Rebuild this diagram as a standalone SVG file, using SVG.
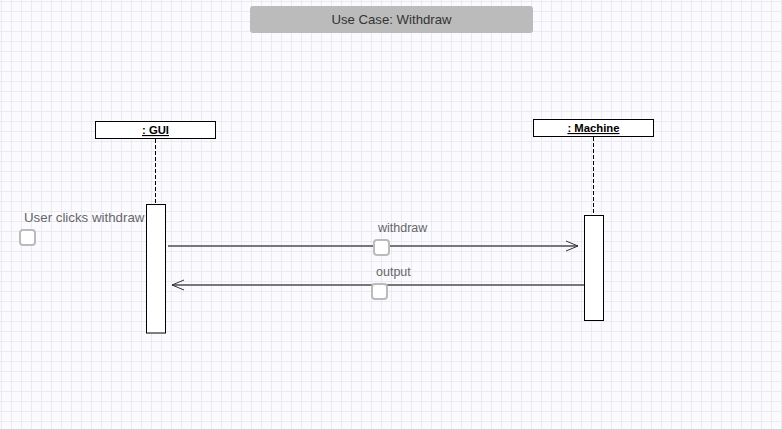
<svg xmlns="http://www.w3.org/2000/svg" width="782" height="429" viewBox="0 0 782 429">
<defs>
<pattern id="grid" x="1" y="1" width="10" height="10" patternUnits="userSpaceOnUse">
<path d="M0 0H10M0 0V10" fill="none" stroke="#e6e4f8" stroke-width="1.5"/>
</pattern>
<marker id="open" markerWidth="14" markerHeight="12" refX="13" refY="6" orient="auto" markerUnits="userSpaceOnUse">
<path d="M1 1 L13 6 L1 11" fill="none" stroke="#333" stroke-width="1"/>
</marker>
<style>
.lbl{font-family:"Liberation Sans",Arial,sans-serif;font-size:12.5px;fill:#666}
.obj{font-family:"Liberation Sans",Arial,sans-serif;font-size:11.3px;font-weight:bold;fill:#000;text-decoration:underline}
.box{fill:#fff;stroke:#000;stroke-width:1}
.life{stroke:#000;stroke-width:1;stroke-dasharray:4 2}
.msg{stroke:#777;stroke-width:2;fill:none}
.hnd{fill:#fff;stroke:#bbb;stroke-width:2}
</style>
</defs>
<rect width="782" height="429" fill="#fbfbff"/>
<rect width="782" height="429" fill="url(#grid)"/>
<g id="title">
<rect x="250" y="6" width="283" height="27" rx="3" fill="#bbbbbb"/>
<text x="391.5" y="24" text-anchor="middle" font-family="Liberation Sans, Arial, sans-serif" font-size="13.2" fill="#333">Use Case: Withdraw</text>
</g>
<g id="gui">
<rect class="box" x="95.5" y="121.5" width="120" height="17"/>
<text class="obj" x="155.5" y="134" text-anchor="middle">: GUI</text>
<line class="life" x1="155.5" y1="139" x2="155.5" y2="204"/>
<rect class="box" x="146.5" y="204.5" width="19" height="128.5"/>
</g>
<g id="machine">
<rect class="box" x="533.5" y="119.5" width="120" height="17"/>
<text class="obj" x="593.5" y="132" text-anchor="middle">: Machine</text>
<line class="life" x1="593.5" y1="137" x2="593.5" y2="215"/>
<rect class="box" x="584.5" y="215.5" width="19" height="105"/>
</g>
<g id="start">
<text class="lbl" x="24" y="222" style="font-size:13.3px">User clicks withdraw</text>
<rect class="hnd" x="20" y="230" width="15" height="15" rx="3"/>
</g>
<g id="connectors">
<line class="msg" x1="168" y1="246" x2="578" y2="246" marker-end="url(#open)"/>
<line class="msg" x1="584" y1="285" x2="172" y2="285" marker-end="url(#open)"/>
</g>
<g id="msg-withdraw">
<text class="lbl" x="378" y="232">withdraw</text>
<rect class="hnd" x="374" y="240" width="15" height="15" rx="3"/>
</g>
<g id="msg-output">
<text class="lbl" x="376" y="276">output</text>
<rect class="hnd" x="372" y="284" width="15" height="15" rx="3"/>
</g>
</svg>
